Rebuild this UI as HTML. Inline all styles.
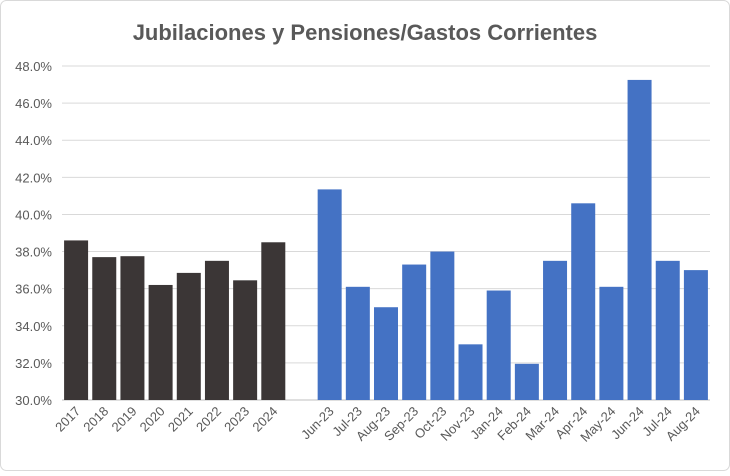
<!DOCTYPE html>
<html><head><meta charset="utf-8"><style>
body{margin:0;background:#fff;font-family:"Liberation Sans",Arial,sans-serif}
</style></head><body>
<svg id="c" width="730" height="471" xmlns="http://www.w3.org/2000/svg">
<rect x="0.5" y="0.5" width="729" height="470" rx="6" fill="#fff" stroke="#d9d9d9"/>
<text x="365" y="40" text-anchor="middle" font-size="22" font-weight="bold" fill="#595959">Jubilaciones y Pensiones/Gastos Corrientes</text>
<g id="grid"></g><g id="bars"></g><g id="labels"></g>
</svg>
<script>
const categories=["2017","2018","2019","2020","2021","2022","2023","2024","","Jun-23","Jul-23","Aug-23","Sep-23","Oct-23","Nov-23","Jan-24","Feb-24","Mar-24","Apr-24","May-24","Jun-24","Jul-24","Aug-24"];
const values=[38.6,37.7,37.75,36.2,36.85,37.5,36.45,38.5,null,41.35,36.1,35.0,37.3,38.0,33.0,35.9,31.95,37.5,40.6,36.1,47.25,37.5,37.0];
const yTicks=[30,32,34,36,38,40,42,44,46,48];
const yTickLabels=["30.0%","32.0%","34.0%","36.0%","38.0%","40.0%","42.0%","44.0%","46.0%","48.0%"];
const ns="http://www.w3.org/2000/svg";
const x0=62,x1=710,yTop=66,yBot=400,ymin=30,ymax=48;
const slot=(x1-x0)/categories.length;
const y=v=>yBot-(v-ymin)/(ymax-ymin)*(yBot-yTop);
const xc=i=>x0+slot*(i+0.5);
function mk(t,a,p){const e=document.createElementNS(ns,t);for(const k in a)e.setAttribute(k,a[k]);p.appendChild(e);return e;}
const G=document.getElementById('grid'),B=document.getElementById('bars'),L=document.getElementById('labels');
yTicks.forEach((t,i)=>{
 const l=mk('line',{x1:x0,x2:x1,y1:y(t),y2:y(t),stroke:t===ymin?'#bfbfbf':'#d9d9d9','stroke-width':1},G);
 
 
 const tx=mk('text',{x:52,y:y(t)+5,'text-anchor':'end','font-size':13,fill:'#595959'},L);
 tx.textContent=yTickLabels[i];
 
 
});
categories.forEach((c,i)=>{
 const v=values[i];
 if(v!=null){
  const r=mk('rect',{x:xc(i)-12,width:24,y:y(v),height:yBot-y(v),fill:i<8?'#3b3636':'#4472c4'},B);
  
  
 }
 if(c){
  const tx=mk('text',{x:0,y:0,'text-anchor':'end','font-size':13,fill:'#595959',transform:`translate(${xc(i)+5},${yBot+12}) rotate(-45)`},L);
  tx.textContent=c;
  
  
 }
});
</script>
</body></html>
